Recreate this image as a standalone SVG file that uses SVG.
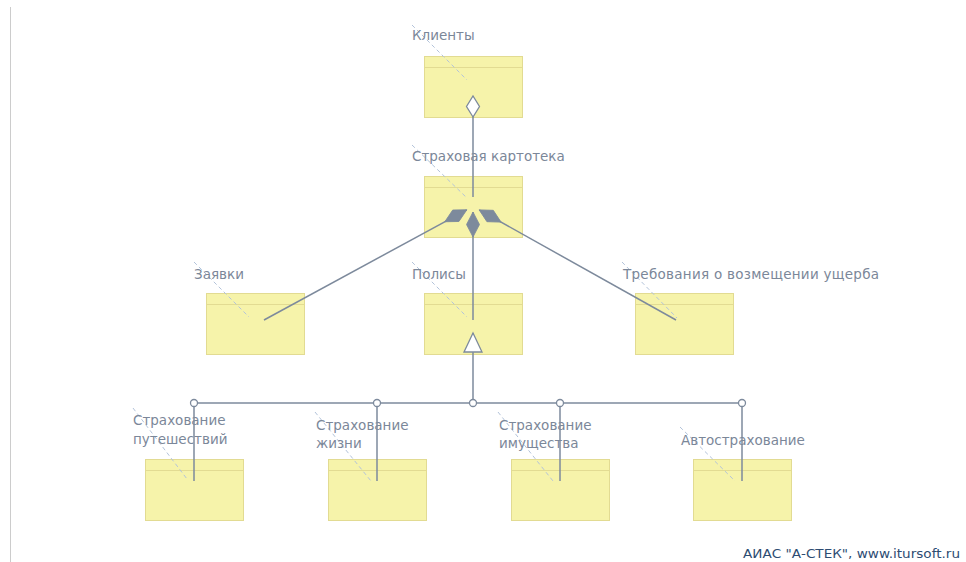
<svg xmlns="http://www.w3.org/2000/svg" width="966" height="562" viewBox="0 0 966 562">
<style>
.box{fill:#f6f3aa;stroke:#e2db92;stroke-width:1}
.hdr{stroke:#e2db92;stroke-width:1}
.lbl{font-family:"DejaVu Sans",sans-serif;font-size:13.5px;fill:#7b8799}
.dash{stroke:#b3c3da;stroke-width:1;stroke-dasharray:4 3}
.con{stroke:#7d8a9c;stroke-width:1.5;fill:none}
.dot{fill:#ffffff;stroke:#7d8a9c;stroke-width:1.3}
.foot{font-family:"DejaVu Sans",sans-serif;font-size:12.5px;fill:#2d4c72}
</style>
<defs>
<marker id="dFill" markerUnits="userSpaceOnUse" viewBox="-1 -8 28 16" refX="25" refY="0" markerWidth="28" markerHeight="16" orient="auto">
<path d="M0,0 L12.5,-6.5 L25,0 L12.5,6.5 Z" fill="#7d8a9c" stroke="#7d8a9c" stroke-width="0.8"/>
</marker>
<marker id="dHol" markerUnits="userSpaceOnUse" viewBox="-2 -9 26 18" refX="21" refY="0" markerWidth="26" markerHeight="18" orient="auto">
<path d="M0,0 L10.5,-6.5 L21,0 L10.5,6.5 Z" fill="#ffffff" stroke="#7d8a9c" stroke-width="1.3"/>
</marker>
<marker id="tri" markerUnits="userSpaceOnUse" viewBox="-2 -11 23 22" refX="19" refY="0" markerWidth="23" markerHeight="22" orient="auto">
<path d="M0,-9 L19,0 L0,9 Z" fill="#ffffff" stroke="#7d8a9c" stroke-width="1.3"/>
</marker>
</defs>
<rect x="0" y="0" width="966" height="562" fill="#ffffff"/>
<line x1="10.5" y1="7" x2="10.5" y2="562" stroke="#cccccc" stroke-width="1"/>

<g id="n-klienty">
<rect class="box" x="424.5" y="56.5" width="98" height="61"/>
<line class="hdr" x1="424.5" y1="67.5" x2="522.5" y2="67.5"/>
<line class="dash" x1="412" y1="25" x2="467" y2="80"/>
<text class="lbl" x="412" y="40">Клиенты</text>
</g>
<g id="n-kartoteka">
<rect class="box" x="424.5" y="176.5" width="98" height="61"/>
<line class="hdr" x1="424.5" y1="187.5" x2="522.5" y2="187.5"/>
<line class="dash" x1="412" y1="145" x2="467" y2="198"/>
<text class="lbl" x="412" y="161">Страховая картотека</text>
</g>
<g id="n-zayavki">
<rect class="box" x="206.5" y="293.5" width="98" height="61"/>
<line class="hdr" x1="206.5" y1="304.5" x2="304.5" y2="304.5"/>
<line class="dash" x1="194" y1="262" x2="249" y2="317"/>
<text class="lbl" x="194" y="279">Заявки</text>
</g>
<g id="n-polisy">
<rect class="box" x="424.5" y="293.5" width="98" height="61"/>
<line class="hdr" x1="424.5" y1="304.5" x2="522.5" y2="304.5"/>
<line class="dash" x1="412" y1="262" x2="467" y2="317"/>
<text class="lbl" x="412" y="279">Полисы</text>
</g>
<g id="n-trebovaniya">
<rect class="box" x="635.5" y="293.5" width="98" height="61"/>
<line class="hdr" x1="635.5" y1="304.5" x2="733.5" y2="304.5"/>
<line class="dash" x1="622" y1="262" x2="677" y2="318"/>
<text class="lbl" x="623" y="279" textLength="256" lengthAdjust="spacing">Требования о возмещении ущерба</text>
</g>
<g id="n-puteshestviy">
<rect class="box" x="145.5" y="459.5" width="98" height="61"/>
<line class="hdr" x1="145.5" y1="470.5" x2="243.5" y2="470.5"/>
<line class="dash" x1="133" y1="408" x2="187" y2="479"/>
<text class="lbl" x="133" y="425">Страхование</text>
<text class="lbl" x="133" y="444">путешествий</text>
</g>
<g id="n-zhizni">
<rect class="box" x="328.5" y="459.5" width="98" height="61"/>
<line class="hdr" x1="328.5" y1="470.5" x2="426.5" y2="470.5"/>
<line class="dash" x1="315" y1="412" x2="371" y2="481"/>
<text class="lbl" x="316" y="430">Страхование</text>
<text class="lbl" x="316" y="448">жизни</text>
</g>
<g id="n-imushchestva">
<rect class="box" x="511.5" y="459.5" width="98" height="61"/>
<line class="hdr" x1="511.5" y1="470.5" x2="609.5" y2="470.5"/>
<line class="dash" x1="498" y1="412" x2="553" y2="481"/>
<text class="lbl" x="499" y="430">Страхование</text>
<text class="lbl" x="499" y="448">имущества</text>
</g>
<g id="n-avto">
<rect class="box" x="693.5" y="459.5" width="98" height="61"/>
<line class="hdr" x1="693.5" y1="470.5" x2="791.5" y2="470.5"/>
<line class="dash" x1="680" y1="427" x2="735" y2="481"/>
<text class="lbl" x="681" y="445">Автострахование</text>
</g>

<g id="connectors">
<line class="con" x1="473" y1="197" x2="473" y2="96" marker-end="url(#dHol)"/>
<line class="con" x1="473" y1="320" x2="473" y2="212" marker-end="url(#dFill)"/>
<line class="con" x1="264" y1="320" x2="466.8" y2="209.8" marker-end="url(#dFill)"/>
<line class="con" x1="676" y1="320" x2="479.2" y2="209.9" marker-end="url(#dFill)"/>
<line class="con" x1="473" y1="403" x2="473" y2="333" marker-end="url(#tri)"/>
<line class="con" x1="194" y1="403" x2="742" y2="403"/>
<line class="con" x1="194" y1="403" x2="194" y2="481"/>
<line class="con" x1="377" y1="403" x2="377" y2="481"/>
<line class="con" x1="560" y1="403" x2="560" y2="481"/>
<line class="con" x1="742" y1="403" x2="742" y2="481"/>
<circle class="dot" cx="194" cy="403" r="3.5"/>
<circle class="dot" cx="377" cy="403" r="3.5"/>
<circle class="dot" cx="473" cy="403" r="3.5"/>
<circle class="dot" cx="560" cy="403" r="3.5"/>
<circle class="dot" cx="742" cy="403" r="3.5"/>
</g>

<text class="foot" x="743" y="558" textLength="217" lengthAdjust="spacingAndGlyphs">АИАС "А-СТЕК", www.itursoft.ru</text>
</svg>
